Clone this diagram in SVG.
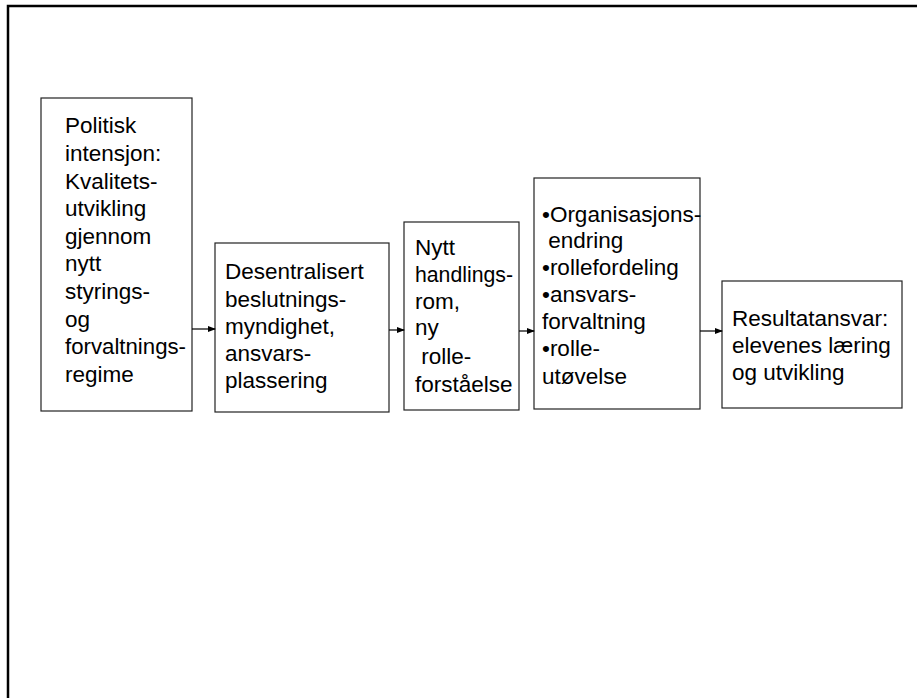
<svg xmlns="http://www.w3.org/2000/svg" width="917" height="698" viewBox="0 0 917 698">
<style>
.box{fill:#fff;stroke:#222;stroke-width:1.2}
.t{font-family:"Liberation Sans",Arial,sans-serif;font-size:22.5px;fill:#000}
.c{stroke:#000;stroke-width:1.2;fill:none}
</style>
<defs>
<marker id="ah" markerWidth="8" markerHeight="6" refX="7" refY="3" orient="auto" markerUnits="userSpaceOnUse">
<path d="M0,0 L8,3 L0,6 Z" fill="#000"/>
</marker>
</defs>
<rect width="917" height="698" fill="#fff"/>
<g id="frame">
<path d="M8,698 L8,6 L917,6" fill="none" stroke="#000" stroke-width="2.5"/>
</g>
<g id="n1">
<rect class="box" x="41" y="98" width="151" height="313"/>
<text class="t" x="65" y="133.3">Politisk</text>
<text class="t" x="65" y="161">intensjon:</text>
<text class="t" x="65" y="188.5">Kvalitets-</text>
<text class="t" x="65" y="216">utvikling</text>
<text class="t" x="65" y="243.7">gjennom</text>
<text class="t" x="65" y="271">nytt</text>
<text class="t" x="65" y="299">styrings-</text>
<text class="t" x="65" y="326.5">og</text>
<text class="t" x="65" y="354" textLength="121" lengthAdjust="spacingAndGlyphs">forvaltnings-</text>
<text class="t" x="65" y="381.7">regime</text>
</g>
<g id="n2">
<rect class="box" x="215" y="243" width="174" height="169"/>
<text class="t" x="225" y="279.3">Desentralisert</text>
<text class="t" x="225" y="306.5">beslutnings-</text>
<text class="t" x="225" y="334">myndighet,</text>
<text class="t" x="225" y="361">ansvars-</text>
<text class="t" x="225" y="388.3">plassering</text>
</g>
<g id="n3">
<rect class="box" x="404" y="222" width="115" height="188"/>
<text class="t" x="415" y="254.7">Nytt</text>
<text class="t" x="415" y="282" textLength="98" lengthAdjust="spacingAndGlyphs">handlings-</text>
<text class="t" x="415" y="308.7">rom,</text>
<text class="t" x="415" y="335.3">ny</text>
<text class="t" x="415" y="364" xml:space="preserve"> rolle-</text>
<text class="t" x="415" y="392">forståelse</text>
</g>
<g id="n4">
<rect class="box" x="534" y="178" width="166" height="231"/>
<text class="t" x="542" y="221.7">•Organisasjons-</text>
<text class="t" x="542" y="248.3" xml:space="preserve"> endring</text>
<text class="t" x="542" y="275">•rollefordeling</text>
<text class="t" x="542" y="302.3">•ansvars-</text>
<text class="t" x="542" y="329">forvaltning</text>
<text class="t" x="542" y="356">•rolle-</text>
<text class="t" x="542" y="384">utøvelse</text>
</g>
<g id="n5">
<rect class="box" x="722" y="281" width="180" height="127"/>
<text class="t" x="732" y="326.3">Resultatansvar:</text>
<text class="t" x="732" y="353.3">elevenes læring</text>
<text class="t" x="732" y="380.3">og utvikling</text>
</g>
<g id="connectors">
<line class="c" x1="192" y1="329" x2="215" y2="329" marker-end="url(#ah)"/>
<line class="c" x1="389" y1="330" x2="404" y2="330" marker-end="url(#ah)"/>
<line class="c" x1="519" y1="331" x2="534" y2="331" marker-end="url(#ah)"/>
<line class="c" x1="700" y1="331" x2="722" y2="331" marker-end="url(#ah)"/>
</g>
</svg>
